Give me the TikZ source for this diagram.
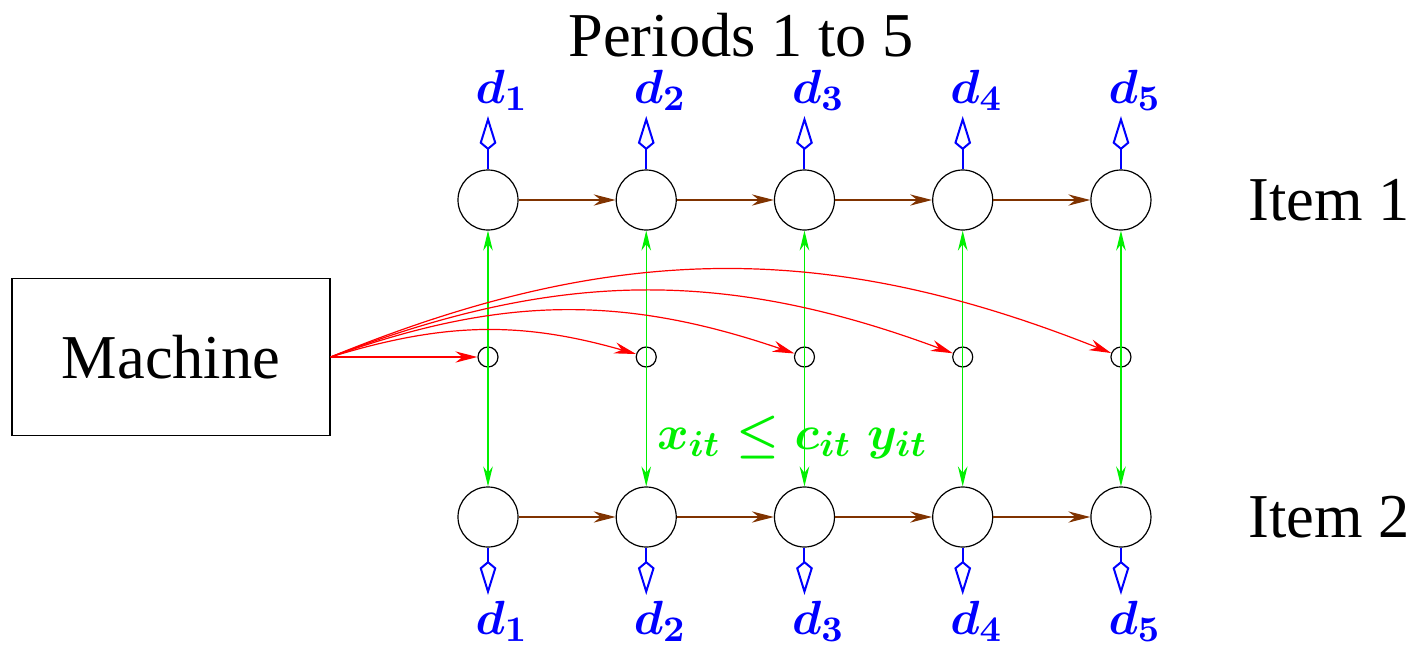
\documentclass[tikz,border=0pt]{standalone}
\usepackage{amsmath}
\usepackage{amssymb}
\usepackage{fontspec}
\setmainfont{Liberation Serif}
\usepackage{tikz}
\usetikzlibrary{arrows.meta, positioning}
\definecolor{flow}{HTML}{803300}
\definecolor{link}{HTML}{00F000}
\definecolor{feed}{HTML}{FF0000}
\definecolor{dem}{HTML}{0000FF}

\begin{document}
\begin{tikzpicture}[x=0.25pt, y=-0.25pt, on grid, node distance=39.56pt, >=Stealth]
  \tikzstyle{big}=[circle, draw, line width=0.3pt, minimum size=15pt, inner sep=0pt]
  \tikzstyle{small}=[circle, draw, line width=0.3pt, minimum size=5pt, inner sep=0pt]
  \tikzstyle{lbl}=[font=\fontsize{15.6}{18}\selectfont]
  \tikzstyle{dlbl}=[text=dem, inner sep=1.25pt, xshift=3.5pt, font=\fontsize{13}{15}\selectfont]
  \tikzstyle{flowarr}=[-{Stealth[length=5.5pt, width=2.8pt]}, line width=0.3pt, color=flow]
  \tikzstyle{linkarr}=[{Stealth[length=5pt, width=2.4pt]}-{Stealth[length=5pt, width=2.4pt]},
                       line width=0.3pt, color=link]
  \tikzstyle{feedarr}=[-{Stealth[length=5.5pt, width=2.8pt]}, line width=0.3pt, color=feed]
  \tikzstyle{demarr}=[-{Kite[open, length=8.5pt, width=4.2pt, inset=1.75pt]},
                      line width=0.5pt, color=dem]

  \useasboundingbox (0,0) rectangle (1427,644);

  % item 1
  \node[big](t1) at (488,200){};
  \node[big, right=of t1](t2){};
  \node[big, right=of t2](t3){};
  \node[big, right=of t3](t4){};
  \node[big, right=of t4](t5){};
  % machine capacity
  \node[small, below=39.25pt of t1](s1){};
  \node[small, below=39.25pt of t2](s2){};
  \node[small, below=39.25pt of t3](s3){};
  \node[small, below=39.25pt of t4](s4){};
  \node[small, below=39.25pt of t5](s5){};
  % item 2
  \node[big, below=40pt of s1](b1){};
  \node[big, below=40pt of s2](b2){};
  \node[big, below=40pt of s3](b3){};
  \node[big, below=40pt of s4](b4){};
  \node[big, below=40pt of s5](b5){};

  \node[lbl](periods) at (741,35){Periods 1 to 5};
  \node[lbl, right=52pt of t5](item1){Item 1};
  \node[lbl, right=52pt of b5](item2){Item 2};
  \node[lbl, draw, line width=0.3pt, minimum width=79.5pt, minimum height=39.25pt,
        left=79.25pt of s1](mach){Machine};

  % demands
  \node[dlbl, above=27.5pt of t1](dt1){$\boldsymbol{d_1}$};
  \node[dlbl, above=27.5pt of t2](dt2){$\boldsymbol{d_2}$};
  \node[dlbl, above=27.5pt of t3](dt3){$\boldsymbol{d_3}$};
  \node[dlbl, above=27.5pt of t4](dt4){$\boldsymbol{d_4}$};
  \node[dlbl, above=27.5pt of t5](dt5){$\boldsymbol{d_5}$};
  \node[dlbl, below=26pt of b1](db1){$\boldsymbol{d_1}$};
  \node[dlbl, below=26pt of b2](db2){$\boldsymbol{d_2}$};
  \node[dlbl, below=26pt of b3](db3){$\boldsymbol{d_3}$};
  \node[dlbl, below=26pt of b4](db4){$\boldsymbol{d_4}$};
  \node[dlbl, below=26pt of b5](db5){$\boldsymbol{d_5}$};

  \node[text=link, font=\fontsize{12.8}{15}\selectfont, below=20pt of s3, xshift=-3pt](cons)
       {$\boldsymbol{x_{it} \le c_{it}\; y_{it}}$};

  \draw[demarr](t1)--(t1|-dt1.south);
  \draw[demarr](t2)--(t2|-dt2.south);
  \draw[demarr](t3)--(t3|-dt3.south);
  \draw[demarr](t4)--(t4|-dt4.south);
  \draw[demarr](t5)--(t5|-dt5.south);
  \draw[demarr](b1)--(b1|-db1.north);
  \draw[demarr](b2)--(b2|-db2.north);
  \draw[demarr](b3)--(b3|-db3.north);
  \draw[demarr](b4)--(b4|-db4.north);
  \draw[demarr](b5)--(b5|-db5.north);

  % inventory
  \draw[flowarr](t1)--(t2);
  \draw[flowarr](t2)--(t3);
  \draw[flowarr](t3)--(t4);
  \draw[flowarr](t4)--(t5);
  \draw[flowarr](b1)--(b2);
  \draw[flowarr](b2)--(b3);
  \draw[flowarr](b3)--(b4);
  \draw[flowarr](b4)--(b5);

  % setups
  \draw[linkarr](t1)--(b1);
  \draw[linkarr](t2)--(b2);
  \draw[linkarr](t3)--(b3);
  \draw[linkarr](t4)--(b4);
  \draw[linkarr](t5)--(b5);

  \draw[feedarr](mach.east)--(s1);
  \draw[feedarr](mach.east) to[bend left=16.5] (s2);
  \draw[feedarr](mach.east) to[bend left=19.3] (s3);
  \draw[feedarr](mach.east) to[bend left=20.7] (s4);
  \draw[feedarr](mach.east) to[bend left=22] (s5);
\end{tikzpicture}
\end{document}
